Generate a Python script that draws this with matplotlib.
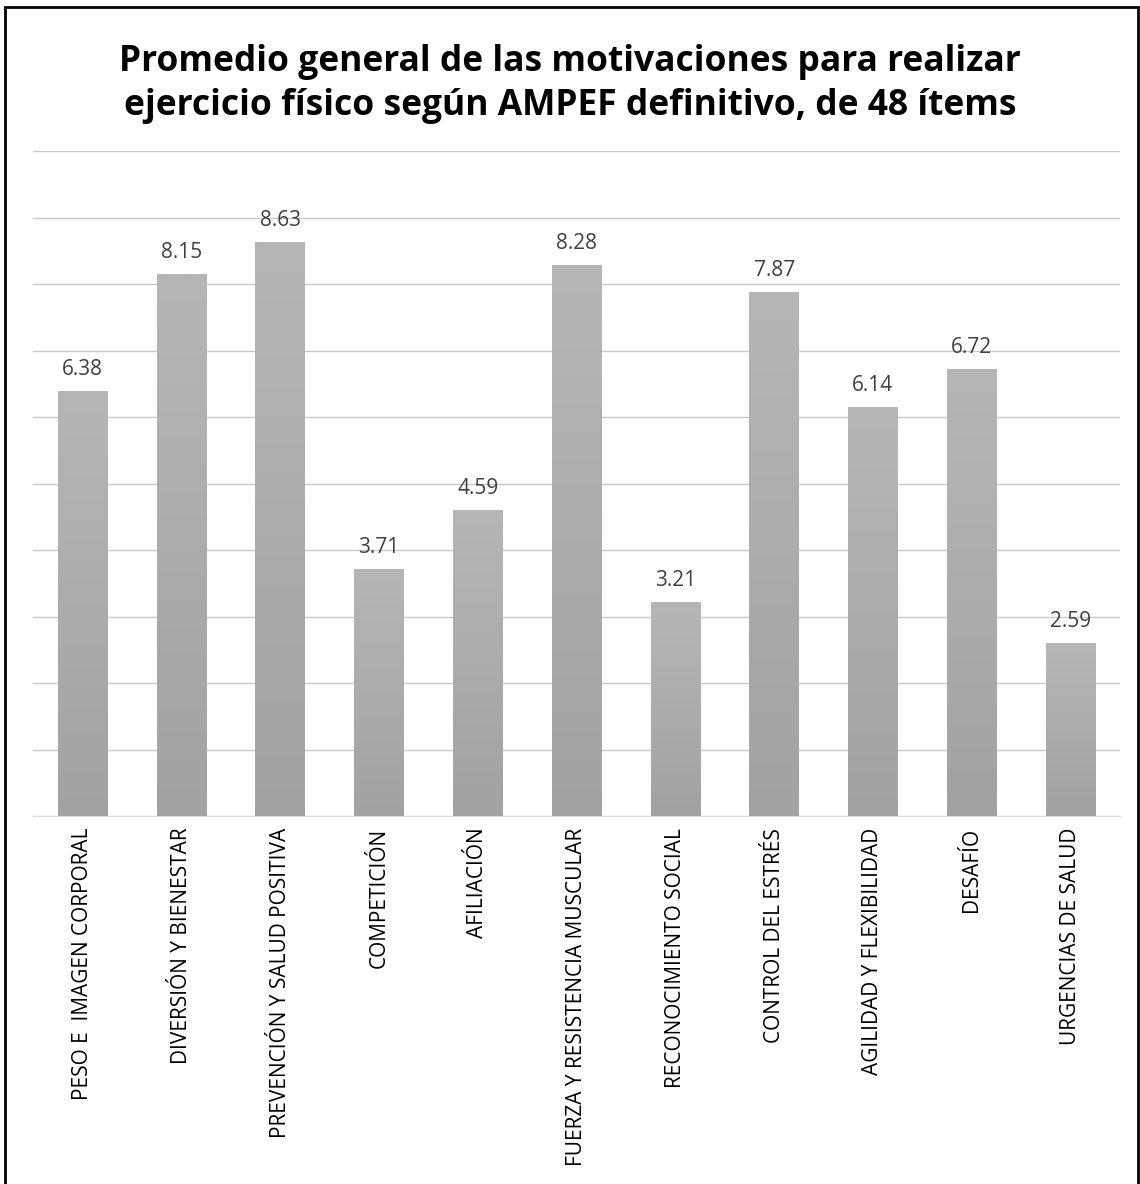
import numpy as np
import matplotlib.pyplot as plt
from matplotlib.patches import Rectangle
from matplotlib.colors import LinearSegmentedColormap

categorias = ['PESO E  IMAGEN CORPORAL', 'DIVERSIÓN Y BIENESTAR', 'PREVENCIÓN Y SALUD POSITIVA',
              'COMPETICIÓN', 'AFILIACIÓN', 'FUERZA Y RESISTENCIA MUSCULAR',
              'RECONOCIMIENTO SOCIAL', 'CONTROL DEL ESTRÉS', 'AGILIDAD Y FLEXIBILIDAD',
              'DESAFÍO', 'URGENCIAS DE SALUD']
valores = [6.38, 8.15, 8.63, 3.71, 4.59, 8.28, 3.21, 7.87, 6.14, 6.72, 2.59]
titulo = 'Promedio general de las motivaciones para realizar\nejercicio físico según AMPEF definitivo, de 48 ítems'

plt.rcParams['font.family'] = ['Open Sans', 'DejaVu Sans']

fig = plt.figure(figsize=(11.4, 11.84), dpi=100)
ax = fig.add_axes([33/1140, 1 - 816/1184, (1120-33)/1140, (816-151)/1184])

x = np.arange(len(valores))
ancho = 0.5
grad = np.linspace(0, 1, 256).reshape(-1, 1)
cmap = LinearSegmentedColormap.from_list('g', ['#a2a2a2', '#b6b6b6'])
for xi, v in zip(x, valores):
    ax.imshow(grad, extent=(xi - ancho/2, xi + ancho/2, 0, v), origin='lower',
              cmap=cmap, aspect='auto', zorder=3)
    ax.text(xi, v + 0.17, f'{v:.2f}', ha='center', va='bottom', fontsize=15, color='#404040', zorder=4)

ax.set_xlim(-0.5, len(valores) - 0.5)
ax.set_ylim(0, 10)
ax.set_yticks(np.arange(0, 11, 1))
ax.yaxis.grid(True, color='#c8c8c8', linewidth=1)
ax.set_axisbelow(True)
ax.tick_params(axis='y', left=False, labelleft=False)
ax.tick_params(axis='x', bottom=False, pad=5)
ax.set_xticks(x)
ax.set_xticklabels(categorias, rotation=90, fontsize=15, color='#000000')
for s in ['top', 'right', 'left']:
    ax.spines[s].set_visible(False)
ax.spines['bottom'].set_color('#d9d9d9')

fig.text(0.5, 1 - 84/1184, titulo, ha='center', va='center', fontsize=25.5, fontweight='bold',
         linespacing=1.28, color='#000000')

fig.patches.append(Rectangle((5/1140, -0.01), (1138-5)/1140, 1 - 7/1184 + 0.01, transform=fig.transFigure,
                             fill=False, edgecolor='black', linewidth=2))

fig.savefig('out.png', dpi=100)
